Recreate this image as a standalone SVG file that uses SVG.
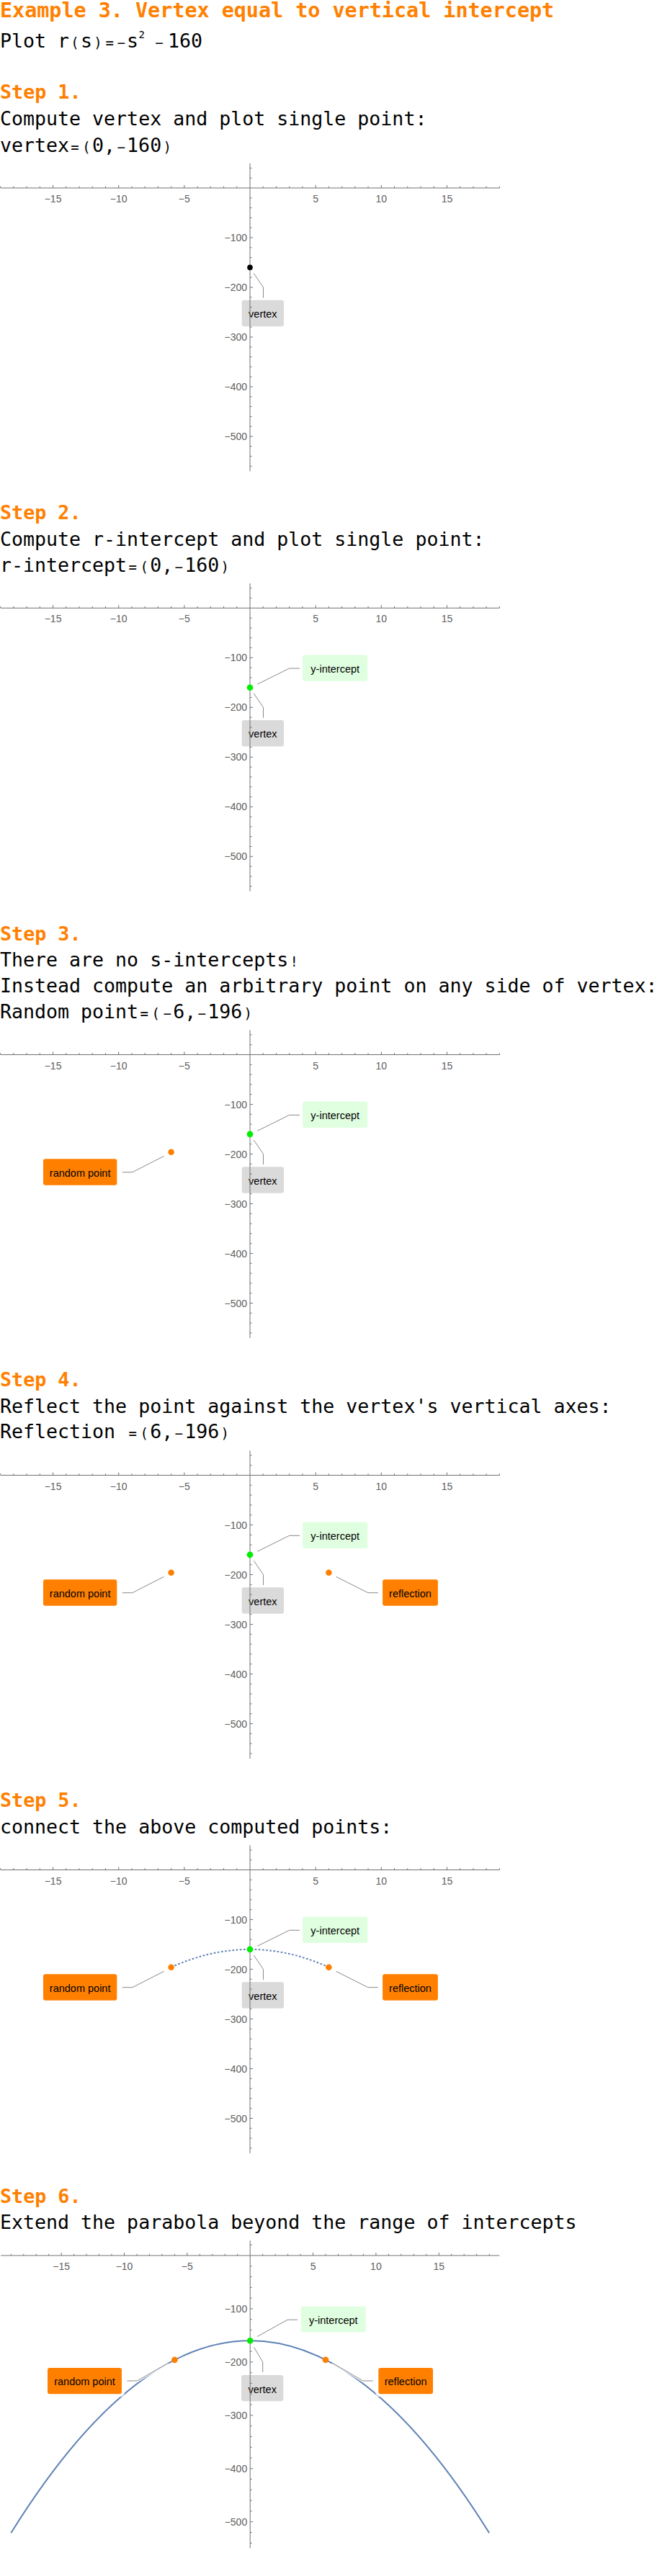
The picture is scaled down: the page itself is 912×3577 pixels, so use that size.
<svg xmlns="http://www.w3.org/2000/svg" width="912" height="3577" viewBox="0 0 912 3577">
<style>
.title{font-family:"DejaVu Sans Mono",monospace;font-weight:bold;font-size:28.4px;fill:#ff8000}
.head{font-family:"DejaVu Sans Mono",monospace;font-weight:bold;font-size:26.7px;fill:#ff8000}
.body{font-family:"DejaVu Sans Mono",monospace;font-size:26.6px;fill:#000}
.op{font-size:19px}
.sup{font-size:14px}
.axis{stroke:#707070;stroke-width:1;fill:none}
.tk{font-family:"Liberation Sans",Arial,sans-serif;font-size:14px;fill:#606060}
.tx{text-anchor:middle}
.ty{text-anchor:end}
.lbl{font-family:"Liberation Sans",Arial,sans-serif;font-size:14.5px;fill:#000;text-anchor:middle}
.halo{fill:#fff;opacity:0.8}
.bv{fill:#dadada}
.by{fill:#e0ffe0}
.bo{fill:#ff8000}
.lead{stroke:#888;stroke-width:1;fill:none}
.leadhalo{stroke:#fff;stroke-width:4;fill:none;opacity:0.8}
.pk{fill:#000}
.pg{fill:#00ee00}
.po{fill:#ff8000}
.curve{stroke:#5e81b5;stroke-width:2;fill:none}
.dots{stroke:#5e81b5;stroke-width:2;fill:none;stroke-dasharray:2.6 2.6}
</style>
<defs>
<g id="axesA">
<path class="axis" d="M1,0H693.4M347,-34.2V393.5"/>
<path class="axis" d="M0.63,0v-2.3M18.86,0v-2.3M37.09,0v-2.3M55.32,0v-2.3M73.55,0v-4M91.78,0v-2.3M110.01,0v-2.3M128.24,0v-2.3M146.47,0v-2.3M164.7,0v-4M182.93,0v-2.3M201.16,0v-2.3M219.39,0v-2.3M237.62,0v-2.3M255.85,0v-4M274.08,0v-2.3M292.31,0v-2.3M310.54,0v-2.3M328.77,0v-2.3M365.23,0v-2.3M383.46,0v-2.3M401.69,0v-2.3M419.92,0v-2.3M438.15,0v-4M456.38,0v-2.3M474.61,0v-2.3M492.84,0v-2.3M511.07,0v-2.3M529.3,0v-4M547.53,0v-2.3M565.76,0v-2.3M583.99,0v-2.3M602.22,0v-2.3M620.45,0v-4M638.68,0v-2.3M656.91,0v-2.3M675.14,0v-2.3M693.37,0v-2.3"/>
<path class="axis" d="M347,-27.6h2.5M347,-13.8h2.5M347,13.8h2.5M347,27.6h2.5M347,41.4h2.5M347,55.2h2.5M347,69h4M347,82.8h2.5M347,96.6h2.5M347,110.4h2.5M347,124.2h2.5M347,138h4M347,151.8h2.5M347,165.6h2.5M347,179.4h2.5M347,193.2h2.5M347,207h4M347,220.8h2.5M347,234.6h2.5M347,248.4h2.5M347,262.2h2.5M347,276h4M347,289.8h2.5M347,303.6h2.5M347,317.4h2.5M347,331.2h2.5M347,345h4M347,358.8h2.5M347,372.6h2.5M347,386.4h2.5"/>
<g class="tk tx">
<text x="73.55" y="20">−15</text><text x="164.7" y="20">−10</text><text x="255.85" y="20">−5</text>
<text x="438.15" y="20">5</text><text x="529.3" y="20">10</text><text x="620.45" y="20">15</text>
</g>
<g class="tk ty">
<text x="343" y="74">−100</text><text x="343" y="143">−200</text><text x="343" y="212">−300</text><text x="343" y="281">−400</text><text x="343" y="350">−500</text>
</g>
</g>
<g id="axesB">
<path class="axis" d="M1.2,0H693.2M347.2,-20.8V406.4"/>
<path class="axis" d="M15.27,0v-2.3M32.74,0v-2.3M50.21,0v-2.3M67.68,0v-2.3M85.15,0v-4M102.62,0v-2.3M120.09,0v-2.3M137.56,0v-2.3M155.03,0v-2.3M172.5,0v-4M189.97,0v-2.3M207.44,0v-2.3M224.91,0v-2.3M242.38,0v-2.3M259.85,0v-4M277.32,0v-2.3M294.79,0v-2.3M312.26,0v-2.3M329.73,0v-2.3M364.67,0v-2.3M382.14,0v-2.3M399.61,0v-2.3M417.08,0v-2.3M434.55,0v-4M452.02,0v-2.3M469.49,0v-2.3M486.96,0v-2.3M504.43,0v-2.3M521.9,0v-4M539.37,0v-2.3M556.84,0v-2.3M574.31,0v-2.3M591.78,0v-2.3M609.25,0v-4M626.72,0v-2.3M644.19,0v-2.3M661.66,0v-2.3M679.13,0v-2.3"/>
<path class="axis" d="M347.2,-14.79h2.5M347.2,14.79h2.5M347.2,29.58h2.5M347.2,44.37h2.5M347.2,59.16h2.5M347.2,73.95h4M347.2,88.74h2.5M347.2,103.53h2.5M347.2,118.32h2.5M347.2,133.11h2.5M347.2,147.9h4M347.2,162.69h2.5M347.2,177.48h2.5M347.2,192.27h2.5M347.2,207.06h2.5M347.2,221.85h4M347.2,236.64h2.5M347.2,251.43h2.5M347.2,266.22h2.5M347.2,281.01h2.5M347.2,295.8h4M347.2,310.59h2.5M347.2,325.38h2.5M347.2,340.17h2.5M347.2,354.96h2.5M347.2,369.75h4M347.2,384.54h2.5M347.2,399.33h2.5"/>
<g class="tk tx">
<text x="85.15" y="20">−15</text><text x="172.5" y="20">−10</text><text x="259.85" y="20">−5</text>
<text x="434.55" y="20">5</text><text x="521.9" y="20">10</text><text x="609.25" y="20">15</text>
</g>
<g class="tk ty">
<text x="343.2" y="78.95">−100</text><text x="343.2" y="152.9">−200</text><text x="343.2" y="226.85">−300</text><text x="343.2" y="300.8">−400</text><text x="343.2" y="374.75">−500</text>
</g>
</g>
</defs>

<g id="header">
<text class="title" x="0" y="24.3">Example 3. Vertex equal to vertical intercept</text>
<text class="body" y="65.7">Plot r<tspan class="op" x="98.35">(</tspan><tspan x="112.07">s</tspan><tspan class="op" x="130.37">)</tspan><tspan class="op" x="146.38">=</tspan><tspan class="op" x="162.39">−</tspan><tspan x="176.11">s</tspan><tspan class="sup" x="192.5" y="53.3">2</tspan><tspan class="op" x="215.2" y="65.7">−</tspan><tspan x="233">160</tspan></text>
</g>

<!-- Step 1 -->
<g id="step1-text">
<text class="head" x="0" y="136.7">Step 1.</text>
<text class="body" x="0" y="173.5">Compute vertex and plot single point:</text>
<text class="body" y="210.5">vertex<tspan class="op" x="98.35">=</tspan><tspan class="op" x="114.36">(</tspan><tspan x="128.08">0,</tspan><tspan class="op" x="162.39">−</tspan><tspan x="176.11">160</tspan><tspan class="op" x="226.43">)</tspan></text>
</g>
<g id="plot1" transform="translate(0,261)">
<g id="p1-vertex-label"><rect class="bv" x="335.7" y="155.7" width="58.3" height="36.6" rx="3"/><text class="lbl" x="364.85" y="180.2">vertex</text></g>
<use href="#axesA"/>
<g id="p1-connectors"><path class="lead" d="M352.3,118.6L365.5,138V152.5"/></g>
<g id="p1-vertex"><circle class="pk" cx="347" cy="110.4" r="3.8"/></g>
</g>

<!-- Step 2 -->
<g id="step2-text">
<text class="head" x="0" y="721.2">Step 2.</text>
<text class="body" x="0" y="757.8">Compute r-intercept and plot single point:</text>
<text class="body" y="793.8">r-intercept<tspan class="op" x="178.4">=</tspan><tspan class="op" x="194.41">(</tspan><tspan x="208.13">0,</tspan><tspan class="op" x="242.44">−</tspan><tspan x="256.16">160</tspan><tspan class="op" x="306.48">)</tspan></text>
</g>
<g id="plot2" transform="translate(0,844.3)">
<g id="p2-vertex-label"><rect class="bv" x="335.7" y="155.7" width="58.3" height="36.6" rx="3"/><text class="lbl" x="364.85" y="180.2">vertex</text></g>
<g id="p2-yint-label"><rect class="by" x="420" y="65.1" width="90.3" height="36.4" rx="3"/><text class="lbl" x="465.2" y="89.6">y-intercept</text></g>
<use href="#axesA"/>
<g id="p2-connectors"><path class="lead" d="M352.3,118.6L365.5,138V152.5"/><path class="lead" d="M357.3,105.8L401.7,83.8H416"/></g>
<g id="p2-vertex"><circle class="pg" cx="347" cy="110.4" r="4.3"/></g>
</g>

<!-- Step 3 -->
<g id="step3-text">
<text class="head" x="0" y="1305.6">Step 3.</text>
<text class="body" y="1341.6">There are no s-intercepts<tspan class="op" x="402.54">!</tspan></text>
<text class="body" x="0" y="1377.6">Instead compute an arbitrary point on any side of vertex:</text>
<text class="body" y="1413.5">Random point<tspan class="op" x="194.41">=</tspan><tspan class="op" x="210.42">(</tspan><tspan class="op" x="226.43">−</tspan><tspan x="240.15">6,</tspan><tspan class="op" x="274.46">−</tspan><tspan x="288.18">196</tspan><tspan class="op" x="338.5">)</tspan></text>
</g>
<g id="plot3" transform="translate(0,1464.5)">
<g id="p3-vertex-label"><rect class="bv" x="335.7" y="155.7" width="58.3" height="36.6" rx="3"/><text class="lbl" x="364.85" y="180.2">vertex</text></g>
<g id="p3-yint-label"><rect class="by" x="420" y="65.1" width="90.3" height="36.4" rx="3"/><text class="lbl" x="465.2" y="89.6">y-intercept</text></g>
<g id="p3-random-label"><rect class="bo" x="60" y="144.7" width="102.3" height="36.5" rx="3"/><text class="lbl" x="111.15" y="169.2">random point</text></g>
<use href="#axesA"/>
<g id="p3-connectors"><path class="lead" d="M352.3,118.6L365.5,138V152.5"/><path class="lead" d="M357.3,105.8L401.7,83.8H416"/><path class="lead" d="M227.5,140.9L183.8,163.2H169.9"/></g>
<g id="p3-vertex"><circle class="pg" cx="347" cy="110.4" r="4.3"/></g>
<g id="p3-random"><circle class="po" cx="237.6" cy="135.2" r="4.3"/></g>
</g>

<!-- Step 4 -->
<g id="step4-text">
<text class="head" x="0" y="1925.3">Step 4.</text>
<text class="body" x="0" y="1961.6">Reflect the point against the vertex's vertical axes:</text>
<text class="body" y="1997.4">Reflection <tspan class="op" x="178.4">=</tspan><tspan class="op" x="194.41">(</tspan><tspan x="208.13">6,</tspan><tspan class="op" x="242.44">−</tspan><tspan x="256.16">196</tspan><tspan class="op" x="306.48">)</tspan></text>
</g>
<g id="plot4" transform="translate(0,2048.5)">
<g id="p4-vertex-label"><rect class="bv" x="335.7" y="155.7" width="58.3" height="36.6" rx="3"/><text class="lbl" x="364.85" y="180.2">vertex</text></g>
<g id="p4-yint-label"><rect class="by" x="420" y="65.1" width="90.3" height="36.4" rx="3"/><text class="lbl" x="465.2" y="89.6">y-intercept</text></g>
<g id="p4-random-label"><rect class="bo" x="60" y="144.7" width="102.3" height="36.5" rx="3"/><text class="lbl" x="111.15" y="169.2">random point</text></g>
<g id="p4-reflection-label"><rect class="bo" x="531.1" y="144.7" width="76.8" height="36.5" rx="3"/><text class="lbl" x="569.5" y="169.2">reflection</text></g>
<use href="#axesA"/>
<g id="p4-connectors"><path class="lead" d="M352.3,118.6L365.5,138V152.5"/><path class="lead" d="M357.3,105.8L401.7,83.8H416"/><path class="lead" d="M227.5,140.9L183.8,163.2H169.9"/><path class="lead" d="M466.6,140.9L510.8,163.2H524.7"/></g>
<g id="p4-vertex"><circle class="pg" cx="347" cy="110.4" r="4.3"/></g>
<g id="p4-random"><circle class="po" cx="237.6" cy="135.2" r="4.3"/></g>
<g id="p4-reflection"><circle class="po" cx="456.4" cy="135.2" r="4.3"/></g>
</g>

<!-- Step 5 -->
<g id="step5-text">
<text class="head" x="0" y="2509.3">Step 5.</text>
<text class="body" x="0" y="2545.5">connect the above computed points:</text>
</g>
<g id="plot5" transform="translate(0,2596.5)">
<g id="p5-vertex-label"><rect class="bv" x="335.7" y="155.7" width="58.3" height="36.6" rx="3"/><text class="lbl" x="364.85" y="180.2">vertex</text></g>
<g id="p5-yint-label"><rect class="by" x="420" y="65.1" width="90.3" height="36.4" rx="3"/><text class="lbl" x="465.2" y="89.6">y-intercept</text></g>
<g id="p5-random-label"><rect class="bo" x="60" y="144.7" width="102.3" height="36.5" rx="3"/><text class="lbl" x="111.15" y="169.2">random point</text></g>
<g id="p5-reflection-label"><rect class="bo" x="531.1" y="144.7" width="76.8" height="36.5" rx="3"/><text class="lbl" x="569.5" y="169.2">reflection</text></g>
<use href="#axesA"/>
<g id="p5-connectors"><path class="lead" d="M352.3,118.6L365.5,138V152.5"/><path class="lead" d="M357.3,105.8L401.7,83.8H416"/><path class="lead" d="M227.5,140.9L183.8,163.2H169.9"/><path class="lead" d="M466.6,140.9L510.8,163.2H524.7"/></g>
<path id="p5-curve" class="dots" d="M237.6,135.2Q347,85.56 456.4,135.2"/>
<g id="p5-vertex"><circle class="pg" cx="347" cy="110.4" r="4.3"/></g>
<g id="p5-random"><circle class="po" cx="237.6" cy="135.2" r="4.3"/></g>
<g id="p5-reflection"><circle class="po" cx="456.4" cy="135.2" r="4.3"/></g>
</g>

<!-- Step 6 -->
<g id="step6-text">
<text class="head" x="0" y="3058.6">Step 6.</text>
<text class="body" x="0" y="3094.8">Extend the parabola beyond the range of intercepts</text>
</g>
<g id="plot6" transform="translate(0,3132)">
<path id="p6-curve" class="curve" d="M15.27,385.28Q347.2,-148.64 679.13,385.28"/>
<g id="p6-halos">
<rect class="halo" x="62" y="152" width="111" height="44.3" rx="6"/>
<rect class="halo" x="521.3" y="152" width="83.7" height="44.3" rx="6"/>
</g>
<g id="p6-vertex-label"><rect class="bv" x="335" y="166" width="58.3" height="36.2" rx="3"/><text class="lbl" x="364.15" y="190.5">vertex</text></g>
<g id="p6-yint-label"><rect class="by" x="417.7" y="70.4" width="90.2" height="36.2" rx="3"/><text class="lbl" x="462.8" y="94.9">y-intercept</text></g>
<g id="p6-random-label"><rect class="bo" x="66" y="156" width="103" height="36.3" rx="3"/><text class="lbl" x="117.5" y="180.3">random point</text></g>
<g id="p6-reflection-label"><rect class="bo" x="525.3" y="156" width="75.7" height="36.3" rx="3"/><text class="lbl" x="563.15" y="180.3">reflection</text></g>
<use href="#axesB"/>
<g id="p6-connectors">
<path class="leadhalo" d="M233.5,149.2L190.5,174H176.5"/><path class="leadhalo" d="M461.3,149.2L503.8,174H517.7"/>
<path class="lead" d="M352.5,127.4L364.7,147.7V162"/><path class="lead" d="M357.2,112.5L399.1,89.2H413"/><path class="lead" d="M233.5,149.2L190.5,174H176.5"/><path class="lead" d="M461.3,149.2L503.8,174H517.7"/>
</g>
<g id="p6-vertex"><circle class="pg" cx="347.2" cy="118.3" r="4.3"/></g>
<g id="p6-random"><circle class="po" cx="242.4" cy="144.9" r="4.3"/></g>
<g id="p6-reflection"><circle class="po" cx="452" cy="144.9" r="4.3"/></g>
</g>
</svg>
